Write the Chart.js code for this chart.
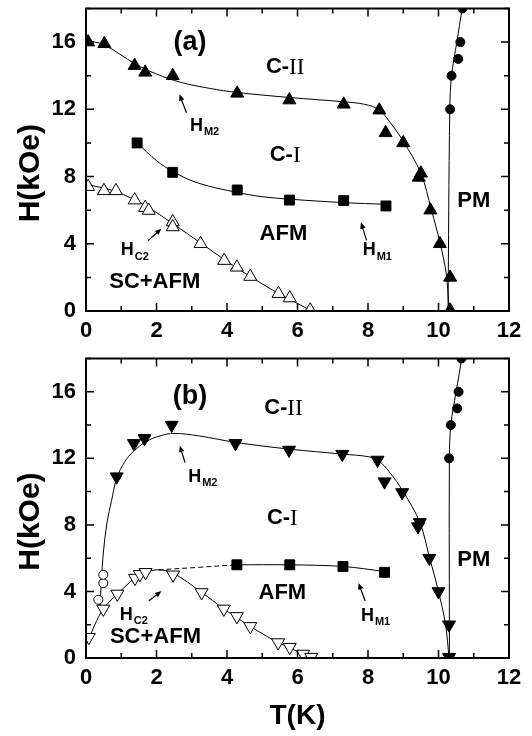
<!DOCTYPE html>
<html>
<head>
<meta charset="utf-8">
<script src="https://cdn.jsdelivr.net/npm/chart.js@4.4.1/dist/chart.umd.min.js"></script>
<style>
  body { margin: 0; background: #fff; }
  canvas { position: absolute; left: 0; }
</style>
</head>
<body>
<canvas id="chartA" width="532" height="350" style="top:0"></canvas>
<canvas id="chartB" width="532" height="386" style="top:350px"></canvas>
<script>
// axis ticks
const xTicks = [0, 2, 4, 6, 8, 10, 12];
const yTicks = [0, 4, 8, 12, 16];

// panel (a) measured points
const aHm2T = [0.06, 0.52, 1.38, 1.68, 2.46, 4.29, 5.77, 7.31, 8.32, 8.5, 9.0, 9.5, 9.44, 9.77, 10.04, 10.33, 10.33];
const aHm2H = [16.0, 15.9, 14.6, 14.2, 14.0, 12.95, 12.55, 12.3, 11.95, 10.6, 10.0, 8.2, 7.95, 6.0, 4.0, 2.0, 0.05];
const aHm1T = [1.45, 2.46, 4.29, 5.77, 7.31, 8.51];
const aHm1H = [10.0, 8.25, 7.2, 6.6, 6.57, 6.25];
const aHc2T = [0.06, 0.51, 0.85, 1.38, 1.68, 1.78, 2.46, 2.46, 3.25, 3.92, 4.28, 4.66, 5.46, 5.78, 6.36];
const aHc2H = [7.4, 7.15, 7.15, 6.6, 6.15, 5.98, 5.3, 5.0, 4.0, 3.0, 2.6, 2.05, 1.03, 0.77, 0.05];
const aPmT = [10.33, 10.37, 10.56, 10.62, 10.68];
const aPmH = [12.0, 14.0, 15.0, 16.0, 18.0];

// panel (a) drawn boundaries
const aHm2LineT = [0, 0.5, 1.4, 2.0, 2.7, 3.5, 4.3, 5.8, 7.3, 7.9, 8.3, 8.6, 9.0, 9.5, 9.8, 10.05, 10.22, 10.3];
const aHm2LineH = [16.1, 15.85, 14.7, 14.1, 13.6, 13.25, 13.0, 12.7, 12.45, 12.3, 12.0, 11.3, 10.1, 8.2, 6.0, 4.0, 2.2, 0];
const aHm1LineT = [1.45, 2.0, 2.46, 3.2, 4.3, 5.0, 5.8, 7.3, 8.5];
const aHm1LineH = [10.0, 8.95, 8.3, 7.6, 7.05, 6.8, 6.65, 6.45, 6.35];
const aHc2LineT = [0, 0.85, 1.7, 2.46, 3.25, 4.0, 4.66, 5.5, 6.0, 6.4];
const aHc2LineH = [7.55, 7.1, 6.25, 5.2, 4.05, 2.95, 2.05, 1.0, 0.45, 0];
const aPmLineT = [10.27, 10.32, 10.37, 10.52, 10.67];
const aPmLineH = [0, 12, 14, 16, 18];

// panel (b) measured points
const bHm2T = [0.87, 1.36, 1.66, 2.43, 4.24, 5.76, 7.27, 8.27, 8.47, 8.97, 9.47, 9.42, 9.74, 10.0, 10.3, 10.3];
const bHm2H = [10.9, 12.9, 13.2, 14.0, 12.9, 12.5, 12.25, 11.9, 10.6, 9.95, 8.15, 7.9, 6.0, 4.0, 2.0, 0.05];
const bHm1T = [4.28, 5.78, 7.29, 8.47];
const bHm1H = [5.6, 5.6, 5.5, 5.15];
const bHc2T = [0.08, 0.49, 0.89, 1.39, 1.53, 1.69, 2.47, 3.28, 3.91, 4.28, 4.66, 5.45, 5.78, 6.16, 6.39];
const bHc2H = [1.25, 2.95, 3.85, 4.8, 5.03, 5.15, 5.0, 3.94, 2.95, 2.5, 1.9, 0.93, 0.65, 0.24, 0.05];
const bOpenT = [0.35, 0.49, 0.49];
const bOpenH = [3.5, 4.5, 5.0];
const bPmT = [10.3, 10.35, 10.53, 10.57, 10.65];
const bPmH = [12.0, 14.0, 15.0, 16.0, 18.0];

// panel (b) drawn boundaries
const bHm2LineT = [0.4, 0.43, 0.5, 0.6, 0.72, 0.87, 1.1, 1.34, 1.7, 2.1, 2.5, 3.2, 4.27, 5.78, 7.3, 8.0, 8.3, 8.6, 9.0, 9.47, 9.75, 10.0, 10.2, 10.3];
const bHm2LineH = [3.0, 4.5, 6.5, 8.2, 9.4, 10.8, 11.8, 12.4, 13.0, 13.35, 13.5, 13.35, 12.95, 12.55, 12.25, 12.1, 11.85, 11.2, 10.0, 8.15, 6.0, 4.0, 2.0, 0];
const bHm1LineT = [4.28, 5.78, 7.29, 8.47];
const bHm1LineH = [5.6, 5.6, 5.5, 5.2];
const bDashT = [2.05, 3.2, 4.28];
const bDashH = [5.3, 5.45, 5.6];
const bHc2LineT = [0.02, 0.25, 0.49, 0.89, 1.39, 1.7, 2.05, 2.47, 3.28, 3.91, 4.66, 5.45, 5.78, 6.16, 6.4];
const bHc2LineH = [0.85, 2.0, 2.95, 3.85, 4.8, 5.15, 5.3, 5.1, 3.95, 2.95, 1.9, 0.93, 0.62, 0.22, 0];
const bPmLineT = [10.31, 10.31, 10.35, 10.5, 10.66];
const bPmLineH = [0, 12, 14, 16, 18];

// region labels and arrows, in (T, H)
const aNotes = [
  { t: 2.95, h: 16.0, text: '(a)', size: 27 },
  { t: 5.65, h: 14.5, text: 'C-', roman: 'II' },
  { t: 5.65, h: 9.3, text: 'C-', roman: 'I' },
  { t: 5.6, h: 4.6, text: 'AFM' },
  { t: 11.0, h: 6.55, text: 'PM' },
  { t: 1.95, h: 1.72, text: 'SC+AFM' },
  { t: 3.35, h: 11.0, text: 'H', sub: 'M2' },
  { t: 8.25, h: 3.6, text: 'H', sub: 'M1' },
  { t: 1.37, h: 3.6, text: 'H', sub: 'C2' }
];
const aArrows = [[2.85, 11.8, 2.65, 12.9], [7.96, 4.2, 7.8, 5.28], [1.76, 4.19, 2.14, 4.89]];
const bNotes = [
  { t: 2.95, h: 15.7, text: '(b)', size: 27 },
  { t: 5.6, h: 15.0, text: 'C-', roman: 'II' },
  { t: 5.57, h: 8.4, text: 'C-', roman: 'I' },
  { t: 5.57, h: 3.9, text: 'AFM' },
  { t: 11.0, h: 5.9, text: 'PM' },
  { t: 1.97, h: 1.25, text: 'SC+AFM' },
  { t: 3.3, h: 10.85, text: 'H', sub: 'M2' },
  { t: 8.2, h: 2.5, text: 'H', sub: 'M1' },
  { t: 1.34, h: 2.6, text: 'H', sub: 'C2' }
];
const bArrows = [[2.81, 11.74, 2.66, 12.77], [7.92, 3.43, 7.73, 4.51], [1.78, 3.43, 2.14, 4.02]];

const SANS = '"Liberation Sans", Arial, sans-serif';

function pts(ts, hs) {
  return ts.map((t, i) => ({ x: t, y: hs[i] }));
}

function marks(ts, hs, style, fill, rot, r) {
  return {
    data: pts(ts, hs), showLine: false, pointStyle: style, pointRadius: r,
    pointBackgroundColor: fill, pointBorderColor: '#000', pointBorderWidth: 1,
    pointRotation: rot || 0
  };
}

function curve(ts, hs, dash) {
  return {
    data: pts(ts, hs), showLine: true, pointRadius: 0, borderColor: '#000',
    borderWidth: 1, tension: 0.35, borderDash: dash || [], fill: false
  };
}

// frame, inward ticks, labels, arrows, y title
const decor = {
  id: 'decor',
  afterDatasetsDraw(chart, args, opts) {
    const { ctx, chartArea: a, scales: { x, y } } = chart;
    ctx.save();
    ctx.strokeStyle = '#000';
    ctx.lineWidth = 2;
    ctx.strokeRect(a.left, a.top, a.right - a.left, a.bottom - a.top);
    ctx.lineWidth = 1.5;
    ctx.beginPath();
    for (let t = 0; t <= 12; t++) {
      const px = x.getPixelForValue(t);
      const len = t % 2 ? 5 : 8;
      ctx.moveTo(px, a.bottom); ctx.lineTo(px, a.bottom - len);
      ctx.moveTo(px, a.top); ctx.lineTo(px, a.top + len);
    }
    for (let h = 0; h <= 18; h += 2) {
      const py = y.getPixelForValue(h);
      const len = h % 4 ? 5 : 8;
      ctx.moveTo(a.left, py); ctx.lineTo(a.left + len, py);
      ctx.moveTo(a.right, py); ctx.lineTo(a.right - len, py);
    }
    ctx.stroke();

    ctx.fillStyle = '#000';
    ctx.textBaseline = 'middle';
    ctx.textAlign = 'left';
    opts.notes.forEach(n => {
      const cx = x.getPixelForValue(n.t);
      const cy = y.getPixelForValue(n.h);
      if (n.sub) {
        ctx.font = 'bold 18px ' + SANS;
        const w1 = ctx.measureText(n.text).width;
        ctx.font = 'bold 11px ' + SANS;
        const w2 = ctx.measureText(n.sub).width;
        const x0 = cx - (w1 + w2) / 2;
        ctx.font = 'bold 18px ' + SANS;
        ctx.fillText(n.text, x0, cy);
        ctx.font = 'bold 11px ' + SANS;
        ctx.fillText(n.sub, x0 + w1 + 1, cy + 6);
      } else if (n.roman) {
        ctx.font = 'bold 22px ' + SANS;
        const w1 = ctx.measureText(n.text).width;
        ctx.font = '23px "Liberation Serif", serif';
        const w2 = ctx.measureText(n.roman).width;
        const x0 = cx - (w1 + w2) / 2;
        ctx.font = 'bold 22px ' + SANS;
        ctx.fillText(n.text, x0, cy);
        ctx.font = '23px "Liberation Serif", serif';
        ctx.fillText(n.roman, x0 + w1, cy + 1);
      } else {
        ctx.font = 'bold ' + (n.size || 22) + 'px ' + SANS;
        const w = ctx.measureText(n.text).width;
        ctx.fillText(n.text, cx - w / 2, cy);
      }
    });

    ctx.lineWidth = 1.2;
    opts.arrows.forEach(([t0, h0, t1, h1]) => {
      const x0 = x.getPixelForValue(t0), y0 = y.getPixelForValue(h0);
      const x1 = x.getPixelForValue(t1), y1 = y.getPixelForValue(h1);
      const ang = Math.atan2(y1 - y0, x1 - x0);
      ctx.beginPath();
      ctx.moveTo(x0, y0);
      ctx.lineTo(x1 - 4 * Math.cos(ang), y1 - 4 * Math.sin(ang));
      ctx.stroke();
      ctx.beginPath();
      ctx.moveTo(x1, y1);
      ctx.lineTo(x1 - 7 * Math.cos(ang - 0.4), y1 - 7 * Math.sin(ang - 0.4));
      ctx.lineTo(x1 - 7 * Math.cos(ang + 0.4), y1 - 7 * Math.sin(ang + 0.4));
      ctx.closePath();
      ctx.fill();
    });

    // y axis title, rotated
    ctx.translate(31, y.getPixelForValue(opts.titleAt));
    ctx.rotate(-Math.PI / 2);
    ctx.font = 'bold 30px ' + SANS;
    ctx.textAlign = 'center';
    ctx.fillText('H(kOe)', 0, 0);
    ctx.restore();
  }
};

function makePanel(id, datasets, notes, arrows, padTop, axisH, showT) {
  return new Chart(document.getElementById(id), {
    type: 'scatter',
    data: { datasets: datasets },
    options: {
      responsive: false,
      animation: false,
      layout: { padding: { top: padTop, right: 23, left: 0, bottom: 0 } },
      plugins: {
        legend: { display: false },
        tooltip: { enabled: false },
        decor: { notes: notes, arrows: arrows, titleAt: 8.2 }
      },
      scales: {
        x: {
          type: 'linear', min: 0, max: 12,
          afterBuildTicks: s => { s.ticks = xTicks.map(v => ({ value: v })); },
          afterFit: s => { s.height = axisH; s.paddingLeft = 0; s.paddingRight = 0; },
          grid: { display: false, drawTicks: false },
          border: { display: false },
          ticks: { color: '#000', padding: 7, maxRotation: 0, font: { family: SANS, size: 22, weight: 'bold' } },
          title: {
            display: showT, text: 'T(K)', color: '#000',
            padding: { top: 0, bottom: 3 },
            font: { family: SANS, size: 28, weight: 'bold', lineHeight: 1.2 }
          }
        },
        y: {
          type: 'linear', min: 0, max: 18,
          afterBuildTicks: s => { s.ticks = yTicks.map(v => ({ value: v })); },
          afterFit: s => { s.width = 86; s.paddingTop = 0; s.paddingBottom = 0; },
          grid: { display: false, drawTicks: false },
          border: { display: false },
          ticks: { color: '#000', padding: 10, font: { family: SANS, size: 22, weight: 'bold' } }
        }
      }
    },
    plugins: [decor]
  });
}

makePanel('chartA', [
  marks(aHm2T, aHm2H, 'triangle', '#000', 0, 7.5),
  marks(aHm1T, aHm1H, 'rect', '#000', 0, 7),
  marks(aHc2T, aHc2H, 'triangle', '#fff', 0, 7.5),
  marks(aPmT, aPmH, 'circle', '#000', 0, 4.5),
  curve(aHm2LineT, aHm2LineH),
  curve(aHm1LineT, aHm1LineH),
  curve(aHc2LineT, aHc2LineH),
  curve(aPmLineT, aPmLineH)
], aNotes, aArrows, 7, 39, false);

makePanel('chartB', [
  marks(bHm2T, bHm2H, 'triangle', '#000', 180, 7.5),
  marks(bHm1T, bHm1H, 'rect', '#000', 0, 7),
  marks(bHc2T, bHc2H, 'triangle', '#fff', 180, 7.5),
  marks(bOpenT, bOpenH, 'circle', '#fff', 0, 4.5),
  marks(bPmT, bPmH, 'circle', '#000', 0, 4.5),
  curve(bHm2LineT, bHm2LineH),
  curve(bHm1LineT, bHm1LineH),
  curve(bDashT, bDashH, [5, 3]),
  curve(bHc2LineT, bHc2LineH),
  curve(bPmLineT, bPmLineH)
], bNotes, bArrows, 5, 78, true);
</script>
</body>
</html>
